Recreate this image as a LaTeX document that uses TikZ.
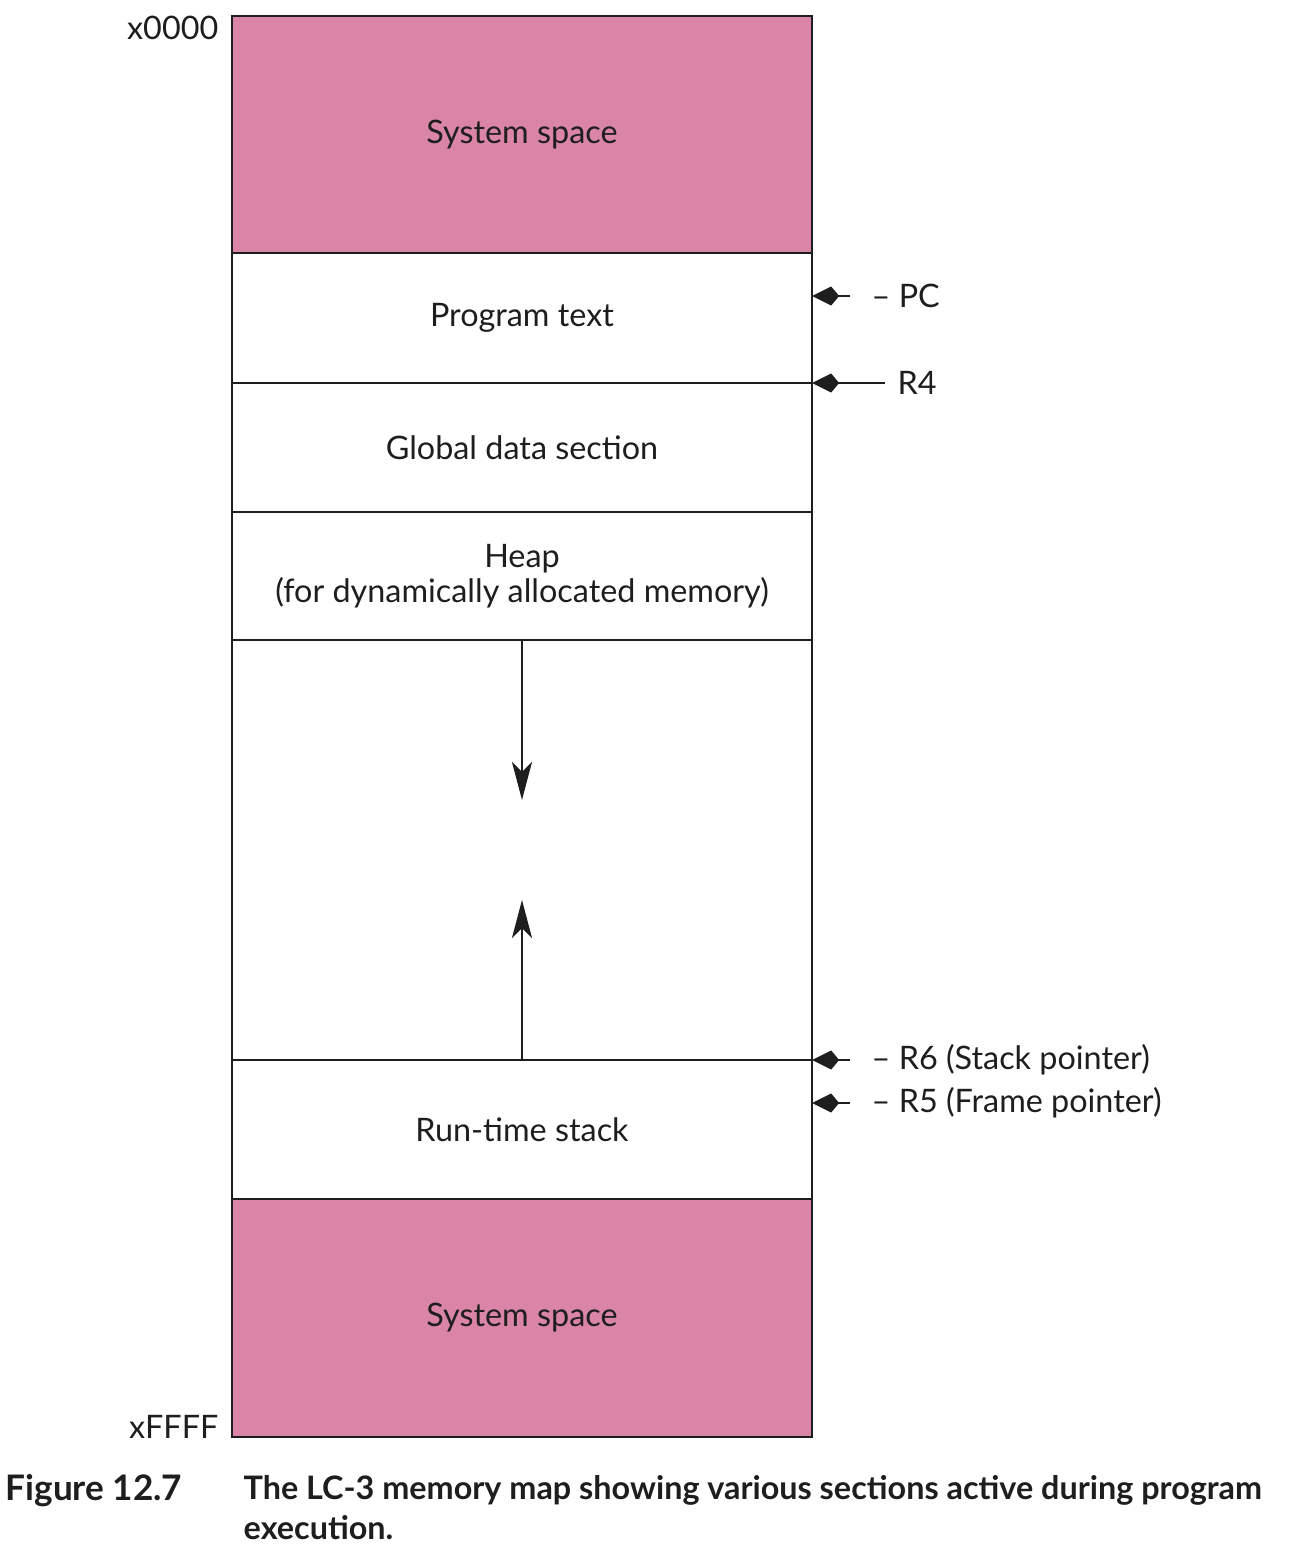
\documentclass[tikz,border=0pt]{standalone}
\usepackage{fontspec}
\setmainfont{Lato}
\usetikzlibrary{arrows.meta}
\definecolor{mpink}{RGB}{218,133,167}
\definecolor{mink}{RGB}{30,30,30}

\begin{document}
\begin{tikzpicture}[x=0.01cm, y=-0.01cm, font=\fontsize{9.2}{10}\selectfont, text=mink,
    sect/.style={draw=mink, line width=0.6pt, minimum width=5.8cm, inner sep=0pt, outer sep=0pt, align=center},
    syspart/.style={sect, fill=mpink},
    ptr/.style={draw=mink, line width=0.65pt, -{Kite[length=2.7mm, width=1.9mm, inset=0.8mm]}},
    growarrow/.style={draw=mink, line width=0.6pt, -{Stealth[length=3.8mm, width=2mm, inset=1mm]}}]
      \useasboundingbox (0, 0) rectangle (1300, 1550);
      % memory sections, top to bottom
      \node [syspart, minimum height=2.37cm] (systop) at (522, 134.5) {System space};
      \node [sect, minimum height=1.30cm] (prog) at (522, 318) {Program text};
      \node [sect, minimum height=1.29cm] (glob) at (522, 447.5) {Global data section};
      \node [sect, minimum height=1.28cm] (heap) at (522, 576) {Heap\\(for dynamically allocated memory)};
      \node [sect, minimum height=4.20cm] (free) at (522, 850) {};
      \node [sect, minimum height=1.39cm] (stack) at (522, 1129.5) {Run-time stack};
      \node [syspart, minimum height=2.38cm] (sysbot) at (522, 1318) {System space};
      \node [anchor=east, inner sep=0pt] (lo) at (219, 28) {x0000};
      \node [anchor=east, inner sep=0pt] (hi) at (219, 1427) {xFFFF};
      % heap and stack growth
      \coordinate (heapend) at (522, 800);
      \coordinate (stackend) at (522, 900);
      \draw [growarrow] (heap.south) -- (heapend);
      \draw [growarrow] (stack.north) -- (stackend);
      % register pointers
      \node [anchor=west, inner sep=0pt] (pc) at (871, 296) {– PC};
      \node [anchor=west, inner sep=0pt] (rfour) at (897, 383) {R4};
      \node [anchor=west, inner sep=0pt] (rsix) at (871, 1060) {– R6 (Stack pointer)};
      \node [anchor=west, inner sep=0pt] (rfive) at (871, 1103) {– R5 (Frame pointer)};
      \coordinate (pctail) at (850, 296);
      \coordinate (rfourtail) at (885, 383);
      \coordinate (rsixtail) at (850, 1060);
      \coordinate (rfivetail) at (850, 1103);
      \draw [ptr] (pctail) -- (pctail -| prog.east);
      \draw [ptr] (rfourtail) -- (rfourtail -| glob.east);
      \draw [ptr] (rsixtail) -- (rsixtail -| stack.east);
      \draw [ptr] (rfivetail) -- (rfivetail -| stack.east);
      % caption
      \node [anchor=base west, inner sep=0pt, font=\fontsize{10}{11.4}\selectfont\bfseries] (fig) at (5, 1500) {Figure 12.7};
      \node [anchor=north west, inner sep=0pt, align=left, font=\fontsize{9.2}{11.4}\selectfont\bfseries] (cap) at (243, 1475) {The LC-3 memory map showing various sections active during program\\execution.};
    \end{tikzpicture}
\end{document}
